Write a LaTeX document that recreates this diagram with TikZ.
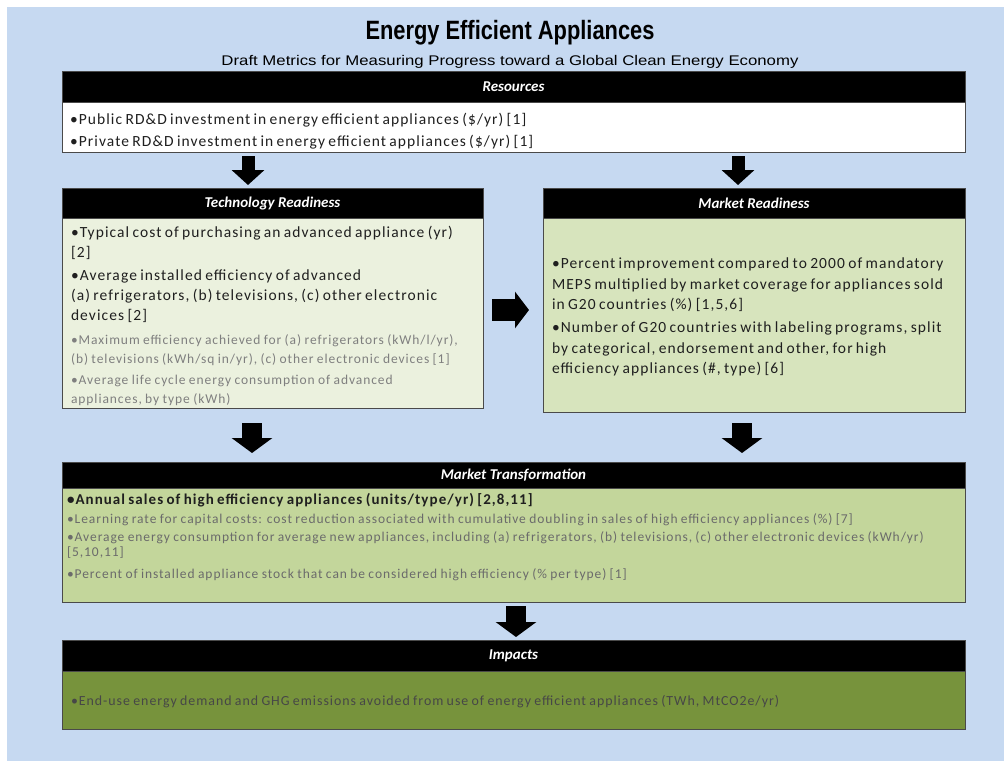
\documentclass[tikz,border=0pt]{standalone}
\usepackage{fontspec}
\usepackage{graphicx}
\setmainfont{Carlito}
\newfontfamily\eeaBody[LetterSpace=7]{Carlito}
\newfontfamily\eeaArial{Liberation Sans}
\usetikzlibrary{arrows.meta,positioning}
\definecolor{eeaSky}{HTML}{C6D9F1}
\definecolor{eeaPale}{HTML}{EBF1DE}
\definecolor{eeaLight}{HTML}{D7E4BD}
\definecolor{eeaGreen}{HTML}{C3D69B}
\definecolor{eeaOlive}{HTML}{77933C}
\definecolor{eeaGray}{HTML}{7F7F7F}
\definecolor{eeaEdge}{HTML}{4A4A4A}
\newcommand{\eeaMain}[1][20]{\eeaBody\fontsize{15.5}{#1}\selectfont\color{black!88}}
\newcommand{\eeaMinor}[1][18.5]{\eeaBody\fontsize{13.5}{#1}\selectfont\color{eeaGray}}
% nudges the text block inside a body box
\newcommand{\eeaNudge}[1]{\par\vspace{#1}\hrule height 0pt}
\tikzset{
  eea head/.style={anchor=north west, fill=black, draw=eeaEdge, line width=1pt, text=white, font=\fontsize{15}{18}\selectfont\bfseries\itshape, inner sep=0pt, outer sep=0pt},
  eea body/.style={anchor=north west, draw=eeaEdge, line width=1pt, inner ysep=0pt, outer sep=0pt, align=left},
  eea arrow/.style={line width=20pt, -{Triangle[width=40pt,length=15pt]}},
  eea small arrow/.style={line width=13pt, -{Triangle[width=32pt,length=15pt]}},
  eea side arrow/.style={line width=22pt, -{Triangle[width=36pt,length=14pt]}},
}

\begin{document}
\begin{tikzpicture}[x=1pt,y=-1pt]
  \useasboundingbox (0,0) rectangle (1004,761);
  \fill[white] (0,0) rectangle (1004,761);
  \fill[eeaSky] (7,7) rectangle (1004,761);

  % title block
  \node[anchor=base, inner sep=0pt] (title) at (510,39) {\resizebox{289pt}{\height}{\eeaArial\fontsize{26.5}{30}\selectfont\bfseries Energy Efficient Appliances}};
  \node[anchor=base, inner sep=0pt] (subtitle) at (510,65) {\resizebox{577pt}{\height}{\eeaArial\fontsize{14}{16}\selectfont Draft Metrics for Measuring Progress toward a Global Clean Energy Economy}};

  % resources
  \node[eea head, minimum width=903pt, minimum height=31pt] (reshead) at (62,71) {Resources};
  \node[eea body, fill=white, text width=887pt, inner xsep=8pt, minimum height=50pt] (res) at (reshead.south west)
    {\eeaMain[22]•Public RD\&D investment in energy efficient appliances (\$/yr) [1]\\
     •Private RD\&D investment in energy efficient appliances (\$/yr) [1]\eeaNudge{-8pt}};

  % technology readiness
  \node[eea head, minimum width=421pt, minimum height=30pt] (techhead) at (62,188) {Technology Readiness};
  \node[eea body, fill=eeaPale, text width=403pt, inner xsep=9pt, minimum height=190pt] (tech) at (techhead.south west)
    {{\eeaMain•Typical cost of purchasing an advanced appliance (yr)\\{}[2]\par}
     \vspace{3pt}
     {\eeaMain•Average installed efficiency of advanced\\
      (a) refrigerators, (b) televisions, (c) other electronic\\
      devices [2]\par}
     \vspace{5pt}
     {\eeaMinor[19]•Maximum efficiency achieved for (a) refrigerators (kWh/l/yr),\\
      (b) televisions (kWh/sq in/yr), (c) other electronic devices [1]\par}
     \vspace{2pt}
     {\eeaMinor[19]•Average life cycle energy consumption of advanced\\
      appliances, by type (kWh)\par}\eeaNudge{-6pt}};

  % market readiness
  \node[eea head, minimum width=422pt, minimum height=30pt] (mkthead) at (543,188) {Market Readiness};
  \node[eea body, fill=eeaLight, text width=404pt, inner xsep=9pt, minimum height=194pt] (mkt) at (mkthead.south west)
    {{\eeaMain[20.5]•Percent improvement compared to 2000 of mandatory\\
      MEPS multiplied by market coverage for appliances sold\\
      in G20 countries (\%) [1,5,6]\par}
     \vspace{2.5pt}
     {\eeaMain[20.5]•Number of G20 countries with labeling programs, split\\
      by categorical, endorsement and other, for high\\
      efficiency appliances (\#, type) [6]\par}\eeaNudge{-4pt}};

  % market transformation
  \node[eea head, minimum width=903pt, minimum height=26pt] (transhead) at (62,462) {Market Transformation};
  \node[eea body, fill=eeaGreen, text width=893pt, inner xsep=5pt, minimum height=114pt] (trans) at (transhead.south west)
    {{\eeaMain\fontsize{15}{20}\selectfont\bfseries •Annual sales of high efficiency appliances (units/type/yr) [2,8,11]\par}
     \vspace{4pt}
     {\eeaMinor[15]\color{black!58}•Learning rate for capital costs: cost reduction associated with cumulative doubling in sales of high efficiency appliances (\%) [7]\par}
     \vspace{3pt}
     {\eeaMinor[15]\color{black!58}•Average energy consumption for average new appliances, including (a) refrigerators, (b) televisions, (c) other electronic devices (kWh/yr)\\{}[5,10,11]\par}
     \vspace{7pt}
     {\eeaMinor[15]\color{black!58}•Percent of installed appliance stock that can be considered high efficiency (\% per type) [1]\par}\eeaNudge{16pt}};

  % impacts
  \node[eea head, minimum width=903pt, minimum height=31pt] (imphead) at (62,640) {Impacts};
  \node[eea body, fill=eeaOlive, text width=885pt, inner xsep=9pt, minimum height=58pt] (imp) at (imphead.south west)
    {\eeaBody\fontsize{13.9}{17}\selectfont\color{black!72}•End-use energy demand and GHG emissions avoided from use of energy efficient appliances (TWh, MtCO2e/yr)\eeaNudge{-6pt}};

  % block arrows
  \coordinate (leftdrop) at (248,0);
  \coordinate (rightdrop) at (738,0);
  \coordinate (lowleft) at (252,0);
  \coordinate (lowright) at (742,0);
  \coordinate (middrop) at (516,0);
  \coordinate (sidemid) at (0,310);
  \draw[eea small arrow] ([yshift=-4pt]res.south -| leftdrop) -- ([yshift=3pt]techhead.north -| leftdrop);
  \draw[eea small arrow] ([yshift=-4pt]res.south -| rightdrop) -- ([yshift=3pt]mkthead.north -| rightdrop);
  \draw[eea side arrow] ([xshift=9pt]tech.east |- sidemid) -- ([xshift=-14pt]mkt.west |- sidemid);
  \draw[eea arrow] ([yshift=-15pt]tech.south -| lowleft) -- ([yshift=9pt]transhead.north -| lowleft);
  \draw[eea arrow] ([yshift=-11pt]mkt.south -| lowright) -- ([yshift=9pt]transhead.north -| lowright);
  \draw[eea arrow] ([yshift=-4pt]trans.south -| middrop) -- ([yshift=3pt]imphead.north -| middrop);
\end{tikzpicture}
\end{document}
